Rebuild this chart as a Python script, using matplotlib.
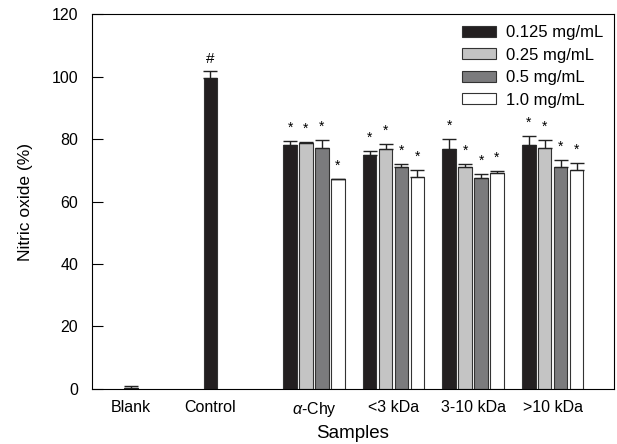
import numpy as np
import matplotlib
matplotlib.use("Agg")
import matplotlib.pyplot as plt

plt.rcParams['font.family'] = ['Liberation Sans', 'DejaVu Sans']
plt.rcParams['mathtext.fontset'] = 'custom'
plt.rcParams['mathtext.it'] = 'Liberation Sans:italic'
plt.rcParams['mathtext.rm'] = 'Liberation Sans'

# --- Data ---
concs = ["0.125 mg/mL", "0.25 mg/mL", "0.5 mg/mL", "1.0 mg/mL"]
samples = ["\u03b1-Chy", "<3 kDa", "3-10 kDa", ">10 kDa"]

blank_val, blank_err = 0.3, 0.6
control_val, control_err = 99.7, 2.0

# rows = samples, cols = concentrations
means = np.array([
    [78.1, 78.6, 77.3, 67.3],
    [74.9, 76.8, 71.0, 67.8],
    [76.8, 71.0, 67.4, 69.0],
    [78.1, 77.3, 71.0, 70.0],
])
errs = np.array([
    [1.4, 0.5, 2.4, 0.0],
    [1.4, 1.6, 0.9, 2.2],
    [3.1, 0.9, 1.5, 0.8],
    [2.9, 2.3, 2.2, 2.2],
])

colors = ["#231f20", "#c4c4c4", "#7b7b7d", "#ffffff"]
edge = "#333333"

fig, ax = plt.subplots(figsize=(6.17, 4.44), dpi=100)
fig.subplots_adjust(left=0.149, right=0.995, top=0.968, bottom=0.124)

width = 0.17
step = 0.2
offsets = (np.arange(4) - 1.5) * step
ekw = dict(elinewidth=1.0, capthick=1.0, ecolor="#222222")

# Blank and Control as single bars (first slot of their group)
for gx, val, err in [(0, blank_val, blank_err), (1, control_val, control_err)]:
    ax.bar(gx + offsets[0], val, width, color=colors[0], edgecolor=edge, linewidth=0.8,
           yerr=[[0], [err]], capsize=5, error_kw=ekw, zorder=2)

ax.text(1 + offsets[0], control_val + control_err + 1.8, "#", ha="center", va="bottom", fontsize=11)

group_x = np.arange(2, 2 + len(samples))
for j, lab in enumerate(concs):
    xs = group_x + offsets[j]
    ax.bar(xs, means[:, j], width, color=colors[j], edgecolor=edge, linewidth=0.8,
           yerr=[np.zeros(len(samples)), errs[:, j]], capsize=5, error_kw=ekw,
           label=lab, zorder=2)
    for x, m, e in zip(xs, means[:, j], errs[:, j]):
        ax.text(x, m + e + 2.0, "*", ha="center", va="bottom", fontsize=10)

ax.set_xlim(-0.79, 5.77)
ax.set_ylim(0, 120)
ax.set_yticks(np.arange(0, 121, 20))
ax.set_xticks([offsets[0], 1 + offsets[0]] + list(group_x))
ax.set_xticklabels(["Blank", "Control"] + ["$\\mathit{\u03b1}$-Chy"] + samples[1:])
ax.tick_params(axis="x", length=0, pad=8, labelsize=11.5)
ax.tick_params(axis="y", direction="in", length=8, pad=10, labelsize=11.5)
ax.set_ylabel("Nitric oxide (%)", fontsize=12.5, labelpad=13)
ax.set_xlabel("Samples", fontsize=13.5, labelpad=4)

ax.legend(loc="upper right", frameon=False, fontsize=12, handlelength=2.0,
          handleheight=0.65, labelspacing=0.45, borderaxespad=0.35, handletextpad=0.6,
          borderpad=0.3)

plt.savefig("out.png", dpi=100)
